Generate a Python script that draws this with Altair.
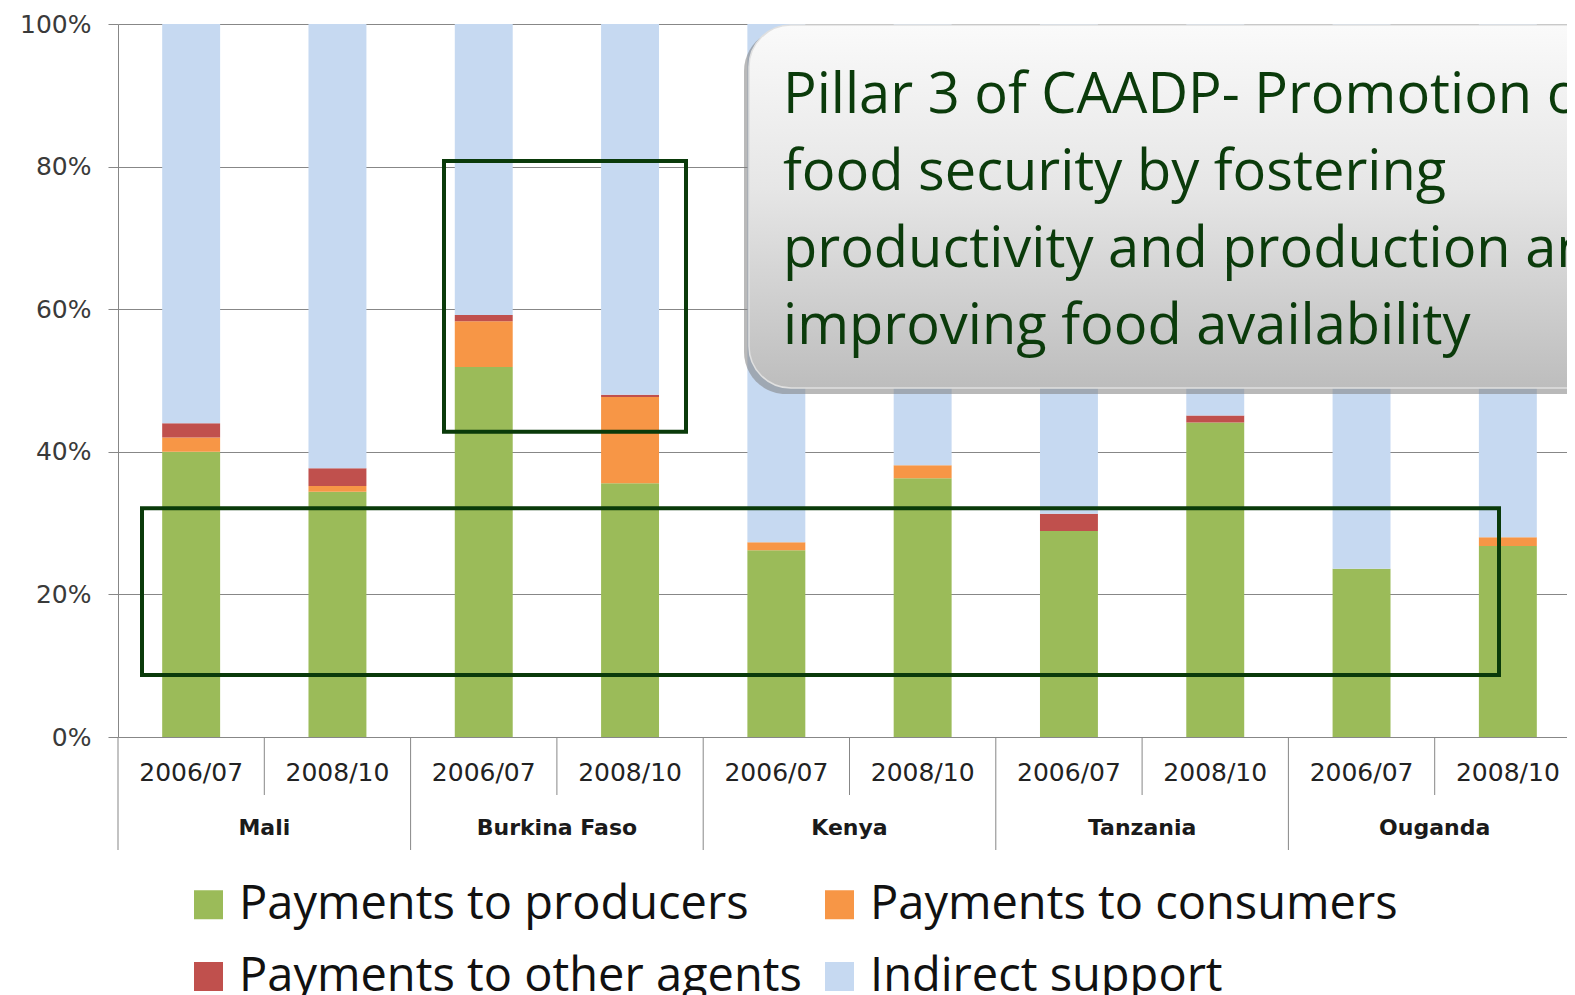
import altair as alt
import pandas as pd

countries = ["Mali", "Burkina Faso", "Kenya", "Tanzania", "Ouganda"]
periods = ["2006/07", "2008/10"]
series = ["Payments to producers", "Payments to consumers",
          "Payments to other agents", "Indirect support"]
colors = ["#9BBB59", "#F79646", "#C0504D", "#C6D9F1"]

producers = [40.0, 34.4, 51.9, 35.6, 26.2, 36.3, 28.9, 44.1, 23.6, 26.8]
consumers = [2.0, 0.8, 6.4, 12.1, 1.1, 1.8, 0.0, 0.0, 0.0, 1.2]
other_agents = [2.0, 2.5, 0.9, 0.3, 0.0, 0.0, 2.4, 1.0, 0.0, 0.0]
indirect = [56.0, 62.3, 40.8, 52.0, 72.7, 61.9, 68.7, 54.9, 76.4, 72.0]

callout_text = ("Pillar 3 of CAADP- Promotion of\nfood security by fostering\n"
                "productivity and production and\nimproving food availability")

keys = [f"{c}|{p}" for c in countries for p in periods]
rows = []
for s_i, (name, vals) in enumerate(zip(series, [producers, consumers, other_agents, indirect])):
    for k, v in zip(keys, vals):
        rows.append({"key": k, "series": name, "value": v, "order": s_i})
df = pd.DataFrame(rows)

lab = pd.DataFrame({"key": keys, "period": [k.split("|")[1] for k in keys]})
ctry = pd.DataFrame({"key": [f"{c}|{periods[1]}" for c in countries], "country": countries})
short_sep = pd.DataFrame({"key": [f"{c}|{periods[1]}" for c in countries]})
long_sep = pd.DataFrame({"key": [f"{c}|{periods[0]}" for c in countries]})
one = pd.DataFrame({"a": [0]})

xscale = alt.Scale(domain=keys, range=[0, 1463], paddingInner=0, paddingOuter=0)
PLOT_H = 713

bars = alt.Chart(df).mark_bar(width=alt.RelativeBandSize(0.396)).encode(
    x=alt.X("key:N", scale=xscale, axis=None, title=None),
    y=alt.Y("value:Q", stack="zero", title=None,
            scale=alt.Scale(domain=[0, 100], nice=False),
            axis=alt.Axis(values=[0, 20, 40, 60, 80, 100], labelExpr="datum.value + '%'",
                          grid=True, gridColor="#878787", gridWidth=1,
                          tickColor="#878787", tickSize=10, domainColor="#878787",
                          labelFont="DejaVu Sans", labelFontSize=25, labelColor="#3a3a3a",
                          labelPadding=17)),
    color=alt.Color("series:N", scale=alt.Scale(domain=series, range=colors),
                    legend=alt.Legend(orient="none", legendX=67, legendY=857, columns=2,
                                      direction="horizontal",
                                      title=None, symbolType="square", symbolSize=841,
                                      symbolStrokeWidth=0, symbolOpacity=1,
                                      labelFont="Open Sans", labelFontSize=47,
                                      labelColor="#111111", labelOffset=7,
                                      columnPadding=14, rowPadding=24, labelLimit=0)),
    order=alt.Order("order:Q"),
)

period_text = alt.Chart(lab).mark_text(font="DejaVu Sans", fontSize=25, color="#222222",
                                       baseline="middle").encode(
    x=alt.X("key:N", scale=xscale), y=alt.value(749), text="period:N")

country_text = alt.Chart(ctry).mark_text(font="DejaVu Sans", fontSize=22, fontWeight="bold",
                                         color="#1a1a1a", baseline="middle").encode(
    x=alt.X("key:N", scale=xscale, bandPosition=0), y=alt.value(804), text="country:N")

sep_short = alt.Chart(short_sep).mark_rule(color="#878787", strokeWidth=1).encode(
    x=alt.X("key:N", scale=xscale, bandPosition=0), y=alt.value(PLOT_H), y2=alt.value(771))
sep_long = alt.Chart(long_sep).mark_rule(color="#878787", strokeWidth=1).encode(
    x=alt.X("key:N", scale=xscale, bandPosition=0), y=alt.value(PLOT_H), y2=alt.value(826))

box1 = alt.Chart(one).mark_rect(fillOpacity=0, stroke="#0a3a0a", strokeWidth=4).encode(
    x=alt.value(326), x2=alt.value(568), y=alt.datum(80.8), y2=alt.datum(42.8))
box2 = alt.Chart(one).mark_rect(fillOpacity=0, stroke="#0a3a0a", strokeWidth=4).encode(
    x=alt.value(24), x2=alt.value(1381), y=alt.datum(32.1), y2=alt.datum(8.7))

shadow = alt.Chart(one).mark_rect(cornerRadius=42, color="#7f7f7f", opacity=0.55).encode(
    x=alt.value(626), x2=alt.value(1500), y=alt.value(5), y2=alt.value(370))
callout = alt.Chart(one).mark_rect(
    cornerRadius=42, stroke="#e0e0e0", strokeWidth=1.5,
    fill=alt.Gradient(gradient="linear",
                      stops=[alt.GradientStop(color="#fafafa", offset=0),
                             alt.GradientStop(color="#e6e6e6", offset=0.45),
                             alt.GradientStop(color="#bdbdbd", offset=1)],
                      x1=0, x2=0, y1=0, y2=1)).encode(
    x=alt.value(631), x2=alt.value(1500), y=alt.value(1), y2=alt.value(364))
callout_txt = alt.Chart(one).mark_text(
    text=callout_text, lineBreak="\n", lineHeight=77, align="left", baseline="alphabetic",
    font="Open Sans", fontSize=56, color="#0b3b0b").encode(
    x=alt.value(665), y=alt.value(89))

chart = alt.layer(
    bars, sep_short, sep_long, period_text, country_text, box1, box2,
    shadow, callout, callout_txt
).properties(
    width=1449, height=PLOT_H,
    autosize=alt.AutoSizeParams(type="none"),
    padding={"left": 110, "top": 16, "right": 0, "bottom": 258},
    background="white",
).configure_view(stroke=None)

chart.save("out.html", embed_options={"renderer": "svg", "actions": False})
